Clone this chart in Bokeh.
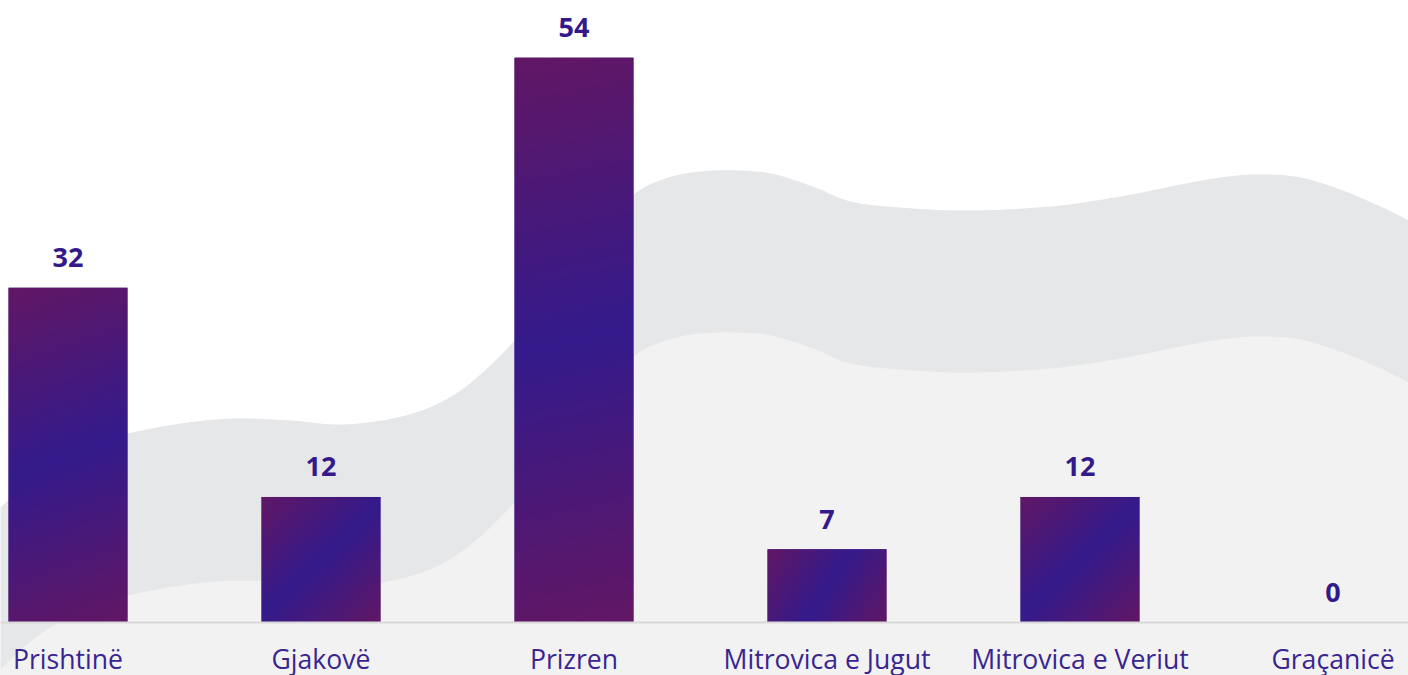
import numpy as np
from bokeh.plotting import figure
from bokeh.models import Range1d, ColumnDataSource, Span
from bokeh.core.properties import value
from bokeh.embed import file_html
from bokeh.resources import INLINE

# ---------------- data ----------------
categories = ["Prishtinë", "Gjakovë", "Prizren", "Mitrovica e Jugut", "Mitrovica e Veriut", "Graçanicë"]
counts = [32, 12, 54, 7, 12, 0]

# ---------------- geometry / style ----------------
W, H = 1408, 675
BASE_PX = 622            # page pixel row of the zero line
PX_PER_UNIT = 10.46      # vertical pixels per count
X0, X1 = -0.2668, 5.2984
Y0 = -(H - BASE_PX) / PX_PER_UNIT
Y1 = BASE_PX / PX_PER_UNIT
BAR_W = 0.47
MAGENTA = np.array([98, 23, 100], dtype=float)
BLUE = np.array([52, 27, 140], dtype=float)
LABEL_COLOR = "#3a2590"
VALUE_COLOR = "#34198b"

px_per_x = W / (X1 - X0)

p = figure(width=W, height=H, output_backend="svg", toolbar_location=None,
           x_range=Range1d(X0, X1), y_range=Range1d(Y0, Y1),
           min_border=0)
p.background_fill_color = "#ffffff"
p.border_fill_color = "#ffffff"
p.outline_line_color = None
p.grid.visible = False
p.axis.visible = False

# ---------------- decorative background waves (page-pixel outline) ----------------
wave_px = [(-40, 545), (0, 507), (30, 479), (60, 459), (100, 441), (127, 433), (180, 423),
           (233, 418), (290, 420), (333, 424), (367, 422), (405, 415), (440, 402),
           (473, 380), (514, 340), (560, 282), (600, 228), (633, 194), (665, 178),
           (700, 171), (740, 170), (775, 174), (815, 187), (850, 201), (900, 207),
           (967, 210), (1050, 206), (1120, 196), (1180, 184), (1220, 177), (1255, 174),
           (1300, 177), (1350, 193), (1408, 220), (1450, 248)]
BAND = 162

def smooth(pts, n=12):
    pts = np.asarray(pts, dtype=float)
    out = []
    for i in range(len(pts) - 1):
        p0 = pts[max(i - 1, 0)]
        p1 = pts[i]
        p2 = pts[i + 1]
        p3 = pts[min(i + 2, len(pts) - 1)]
        for t in np.linspace(0, 1, n, endpoint=False):
            t2, t3 = t * t, t * t * t
            out.append(0.5 * ((2 * p1) + (-p0 + p2) * t + (2 * p0 - 5 * p1 + 4 * p2 - p3) * t2
                              + (-p0 + 3 * p1 - 3 * p2 + p3) * t3))
    out.append(pts[-1])
    return np.array(out)

curve = smooth(wave_px)

def to_data(c, shift):
    xs = list(c[:, 0] / px_per_x + X0)
    ys = list((BASE_PX - (c[:, 1] + shift)) / PX_PER_UNIT)
    return xs, ys

ux, uy = to_data(curve, 0)
lx, ly = to_data(curve, BAND)
p.patch(ux + [ux[-1], ux[0]], uy + [Y0 - 2, Y0 - 2], fill_color="#e6e7e9", line_color=None)
p.patch(lx + [lx[-1], lx[0]], ly + [Y0 - 2, Y0 - 2], fill_color="#f2f2f2", line_color=None)

# ---------------- bars ----------------
xs = list(range(len(categories)))
src = ColumnDataSource(dict(x=xs, top=counts, label=[str(c) for c in counts],
                            cat=categories, zero=[0] * len(xs)))
p.vbar(x="x", top="top", width=BAR_W, source=src, fill_color="#3d1a85", line_color=None)

# gradient overlay for each bar: diagonal gradient magenta -> blue -> magenta
imgs, ix, iy, idw, idh = [], [], [], [], []
for x, v in zip(xs, counts):
    if v <= 0:
        continue
    wpx = int(round(BAR_W * px_per_x))
    hpx = int(round(v * PX_PER_UNIT))
    gx = np.arange(wpx) + 0.5
    gy = np.arange(hpx) + 0.5  # from top
    GX, GY = np.meshgrid(gx, gy)
    t = (GX * wpx + GY * hpx) / (wpx ** 2 + hpx ** 2)
    s = 1 - np.abs(2 * t - 1)
    rgb = MAGENTA[None, None, :] * (1 - s[..., None]) + BLUE[None, None, :] * s[..., None]
    rgb = rgb[::-1]  # row 0 at bottom
    img = np.empty((hpx, wpx), dtype=np.uint32)
    view = img.view(dtype=np.uint8).reshape((hpx, wpx, 4))
    view[..., 0] = rgb[..., 0].astype(np.uint8)
    view[..., 1] = rgb[..., 1].astype(np.uint8)
    view[..., 2] = rgb[..., 2].astype(np.uint8)
    view[..., 3] = 255
    imgs.append(img)
    ix.append(x - BAR_W / 2)
    iy.append(0)
    idw.append(BAR_W)
    idh.append(v)
p.image_rgba(image=imgs, x=ix, y=iy, dw=idw, dh=idh)

# zero line
p.add_layout(Span(location=0, dimension="width", line_color="#d9d9d9", line_width=2))

# value labels
p.text(x="x", y="top", text="label", source=src, text_align="center",
       text_baseline="alphabetic", y_offset=-30,
       text_font=value("Open Sans"), text_font_style="bold",
       text_font_size="27px", text_color=VALUE_COLOR)

# category labels
p.text(x="x", y="zero", text="cat", source=src, text_align="center",
       text_baseline="alphabetic", y_offset=36,
       text_font=value("Open Sans"), text_font_size="26.6px", text_color=LABEL_COLOR)

open("out.html", "w").write(file_html(p, INLINE))
